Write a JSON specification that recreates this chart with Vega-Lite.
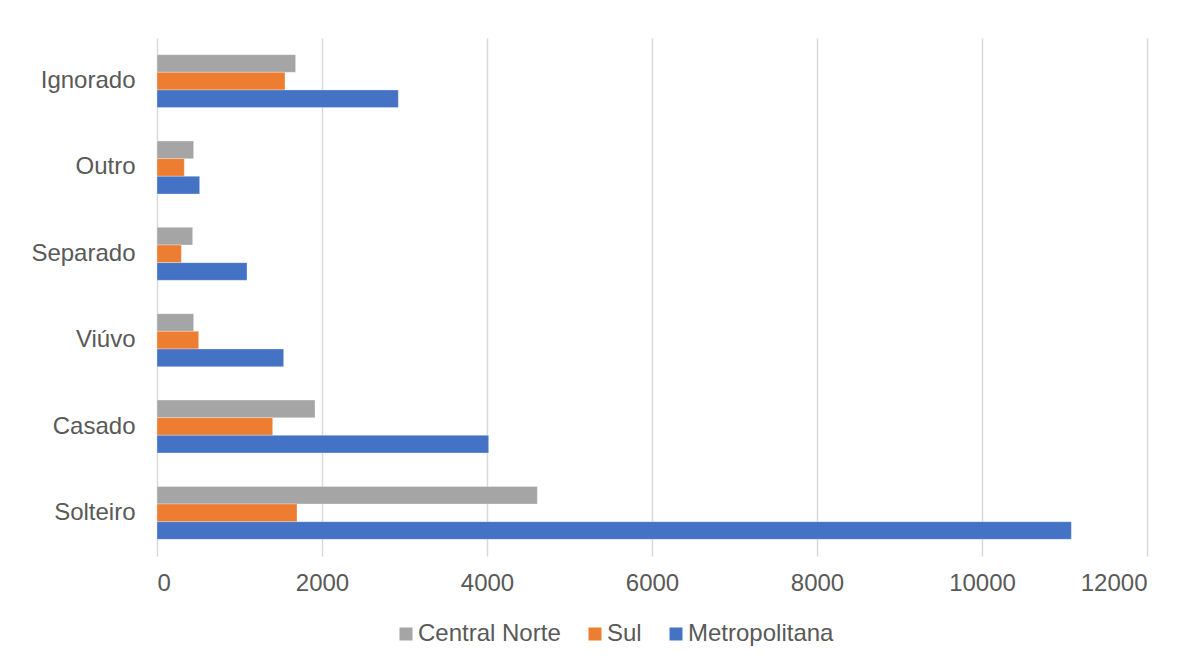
{
  "$schema": "https://vega.github.io/schema/vega-lite/v6.json",
  "autosize": "none",
  "width": 990,
  "height": 518,
  "padding": {"left": 157, "top": 38, "right": 51, "bottom": 109},
  "background": "white",
  "config": {
    "view": {"stroke": null},
    "font": "Liberation Sans"
  },
  "data": {
    "values": [
      {"estado": "Ignorado", "regiao": "Central Norte", "valor": 1680},
      {"estado": "Ignorado", "regiao": "Sul", "valor": 1551},
      {"estado": "Ignorado", "regiao": "Metropolitana", "valor": 2925},
      {"estado": "Outro", "regiao": "Central Norte", "valor": 444},
      {"estado": "Outro", "regiao": "Sul", "valor": 331},
      {"estado": "Outro", "regiao": "Metropolitana", "valor": 517},
      {"estado": "Separado", "regiao": "Central Norte", "valor": 432},
      {"estado": "Separado", "regiao": "Sul", "valor": 295},
      {"estado": "Separado", "regiao": "Metropolitana", "valor": 1091},
      {"estado": "Viúvo", "regiao": "Central Norte", "valor": 444},
      {"estado": "Viúvo", "regiao": "Sul", "valor": 505},
      {"estado": "Viúvo", "regiao": "Metropolitana", "valor": 1535},
      {"estado": "Casado", "regiao": "Central Norte", "valor": 1915},
      {"estado": "Casado", "regiao": "Sul", "valor": 1402},
      {"estado": "Casado", "regiao": "Metropolitana", "valor": 4020},
      {"estado": "Solteiro", "regiao": "Central Norte", "valor": 4610},
      {"estado": "Solteiro", "regiao": "Sul", "valor": 1697},
      {"estado": "Solteiro", "regiao": "Metropolitana", "valor": 11083}
    ]
  },
  "mark": {"type": "bar", "stroke": "white", "strokeWidth": 0.5, "strokeOpacity": 0.6},
  "encoding": {
    "y": {
      "field": "estado",
      "type": "nominal",
      "sort": ["Ignorado", "Outro", "Separado", "Viúvo", "Casado", "Solteiro"],
      "scale": {"paddingInner": 0.387, "paddingOuter": 0.193},
      "axis": {
        "title": null,
        "domain": false,
        "ticks": false,
        "labelPadding": 22,
        "labelFontSize": 24,
        "labelColor": "#595959",
        "labelFont": "Liberation Sans"
      }
    },
    "yOffset": {
      "field": "regiao",
      "type": "nominal",
      "sort": ["Central Norte", "Sul", "Metropolitana"],
      "scale": {"paddingInner": 0, "paddingOuter": 0}
    },
    "x": {
      "field": "valor",
      "type": "quantitative",
      "scale": {"domain": [0, 12000], "nice": false},
      "axis": {
        "title": null,
        "values": [0, 2000, 4000, 6000, 8000, 10000, 12000],
        "format": "d",
        "domain": false,
        "ticks": false,
        "grid": true,
        "gridColor": "#d9d9d9",
        "gridWidth": 1.5,
        "labelPadding": 15,
        "labelFontSize": 24,
        "labelColor": "#595959",
        "labelFont": "Liberation Sans"
      }
    },
    "color": {
      "field": "regiao",
      "type": "nominal",
      "scale": {
        "domain": ["Central Norte", "Sul", "Metropolitana"],
        "range": ["#A5A5A5", "#ED7D31", "#4472C4"]
      },
      "legend": {
        "title": null,
        "orient": "none",
        "direction": "horizontal",
        "legendX": 237,
        "legendY": 584,
        "symbolType": "square",
        "symbolSize": 169,
        "symbolStrokeWidth": 0,
        "labelFontSize": 24,
        "labelColor": "#595959",
        "labelFont": "Liberation Sans",
        "labelOffset": 0,
        "columnPadding": 22
      }
    }
  }
}
